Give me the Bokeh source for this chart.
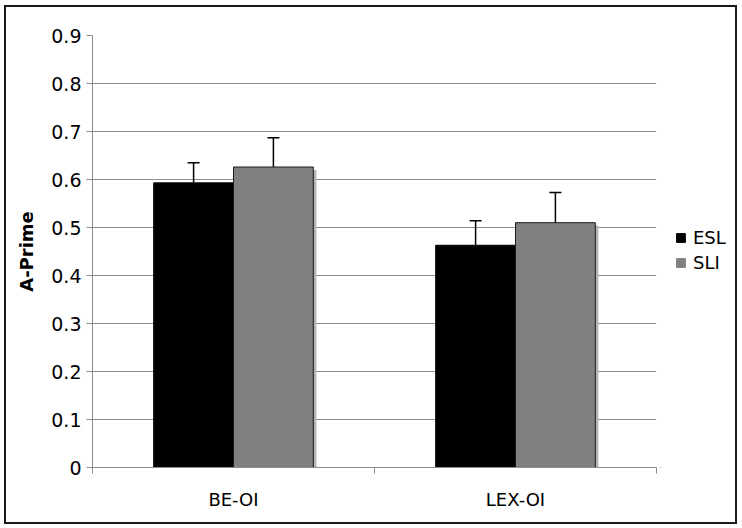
from bokeh.plotting import figure
from bokeh.models import (ColumnDataSource, FixedTicker, Whisker, TeeHead, Legend,
                          LegendItem, Range1d)
from bokeh.layouts import row
from bokeh.transform import dodge
from bokeh.embed import file_html
from bokeh.resources import INLINE
import numpy as np

categories = ["BE-OI", "LEX-OI"]
series = ["ESL", "SLI"]
esl_values = [0.593, 0.463]
esl_upper = [0.635, 0.514]
sli_values = [0.626, 0.510]
sli_upper = [0.687, 0.573]
y_ticks = [0, 0.1, 0.2, 0.3, 0.4, 0.5, 0.6, 0.7, 0.8, 0.9]

FONT = "DejaVu Sans"
ESL_COLOR = "black"
SLI_COLOR = "#808080"
xpos = np.arange(len(categories)) + 0.5

src = ColumnDataSource(dict(
    x=xpos,
    esl=esl_values, esl_up=esl_upper,
    sli=sli_values, sli_up=sli_upper,
    sli_shadow=[v - 0.006 for v in sli_values],
))

p = figure(width=654, height=515, output_backend="svg", toolbar_location=None,
           x_range=Range1d(0, len(categories)), y_range=Range1d(0, 0.9),
           min_border_left=86, min_border_right=4, min_border_top=28, min_border_bottom=55)
p.outline_line_color = None
p.xgrid.grid_line_color = None
p.ygrid.grid_line_color = "#8c8c8c"
p.ygrid.grid_line_width = 1
p.ygrid.ticker = FixedTicker(ticks=y_ticks)

bw = 0.283
off = bw / 2
# shadow for SLI bars
p.vbar(x=dodge("x", off + 0.011), top="sli_shadow", width=bw, source=src,
       fill_color="#b4b4b4", line_color=None)
p.vbar(x=dodge("x", -off), top="esl", width=bw, source=src,
       fill_color=ESL_COLOR, line_color="black", line_width=1)
p.vbar(x=dodge("x", off), top="sli", width=bw, source=src,
       fill_color=SLI_COLOR, line_color="#1a1a1a", line_width=1)

for key, up, d in (("esl", "esl_up", -off), ("sli", "sli_up", off)):
    w = Whisker(base=dodge("x", d), lower=key, upper=up, source=src,
                dimension="height", line_color="black", line_width=1.5,
                upper_head=TeeHead(size=12, line_color="black", line_width=1.5),
                lower_head=None)
    p.add_layout(w)

# y axis
p.yaxis.ticker = FixedTicker(ticks=y_ticks)
p.yaxis.major_label_overrides = {t: ("0" if t == 0 else f"{t:.1f}") for t in y_ticks}
p.yaxis.major_label_text_font = FONT
p.yaxis.major_label_text_font_size = "19px"
p.yaxis.major_label_text_color = "black"
p.yaxis.axis_line_color = "#8c8c8c"
p.yaxis.major_tick_line_color = "#8c8c8c"
p.yaxis.major_tick_in = 0
p.yaxis.major_tick_out = 6
p.yaxis.minor_tick_line_color = None
p.yaxis.major_label_standoff = 5
p.yaxis.axis_label = "A-Prime"
p.yaxis.axis_label_text_font = FONT
p.yaxis.axis_label_text_font_style = "bold"
p.yaxis.axis_label_text_font_size = "18px"
p.yaxis.axis_label_text_color = "black"
p.yaxis.axis_label_standoff = 11

# x axis
p.xaxis.ticker = FixedTicker(ticks=list(xpos), minor_ticks=list(range(len(categories) + 1)))
p.xaxis.major_label_overrides = {float(x): c for x, c in zip(xpos, categories)}
p.xaxis.major_label_text_font = FONT
p.xaxis.major_label_text_font_size = "18px"
p.xaxis.major_label_text_color = "black"
p.xaxis.major_tick_line_color = None
p.xaxis.major_tick_out = 0
p.xaxis.minor_tick_line_color = "#8c8c8c"
p.xaxis.minor_tick_in = 0
p.xaxis.minor_tick_out = 6
p.xaxis.axis_line_color = "#8c8c8c"
p.xaxis.major_label_standoff = 15

# legend panel (separate figure to the right, inside the same border)
q = figure(width=75, height=515, output_backend="svg", toolbar_location=None,
           x_range=Range1d(0, 1), y_range=Range1d(0, 1),
           x_axis_location=None, y_axis_location=None,
           min_border_left=0, min_border_right=0, min_border_top=0, min_border_bottom=0)
q.grid.visible = False
q.outline_line_color = None
hidden = ColumnDataSource(dict(x=[-10], top=[-10]))
g_esl = q.vbar(x="x", top="top", width=0.1, source=hidden,
               fill_color=ESL_COLOR, line_color="black")
g_sli = q.vbar(x="x", top="top", width=0.1, source=hidden,
               fill_color=SLI_COLOR, line_color="#808080")
legend = Legend(items=[LegendItem(label=series[0], renderers=[g_esl]),
                       LegendItem(label=series[1], renderers=[g_sli])],
                location=(15, 194), orientation="vertical",
                glyph_width=11, glyph_height=11, label_standoff=7, spacing=4,
                padding=0, margin=0, border_line_color=None, background_fill_alpha=0,
                label_text_font=FONT, label_text_font_size="18px", label_text_color="black")
q.add_layout(legend, "center")

layout = row(p, q, spacing=0,
             styles={"border": "2px solid #1a1a1a", "margin": "5px 0 0 4px"})

open("out.html", "w").write(file_html(layout, INLINE))
